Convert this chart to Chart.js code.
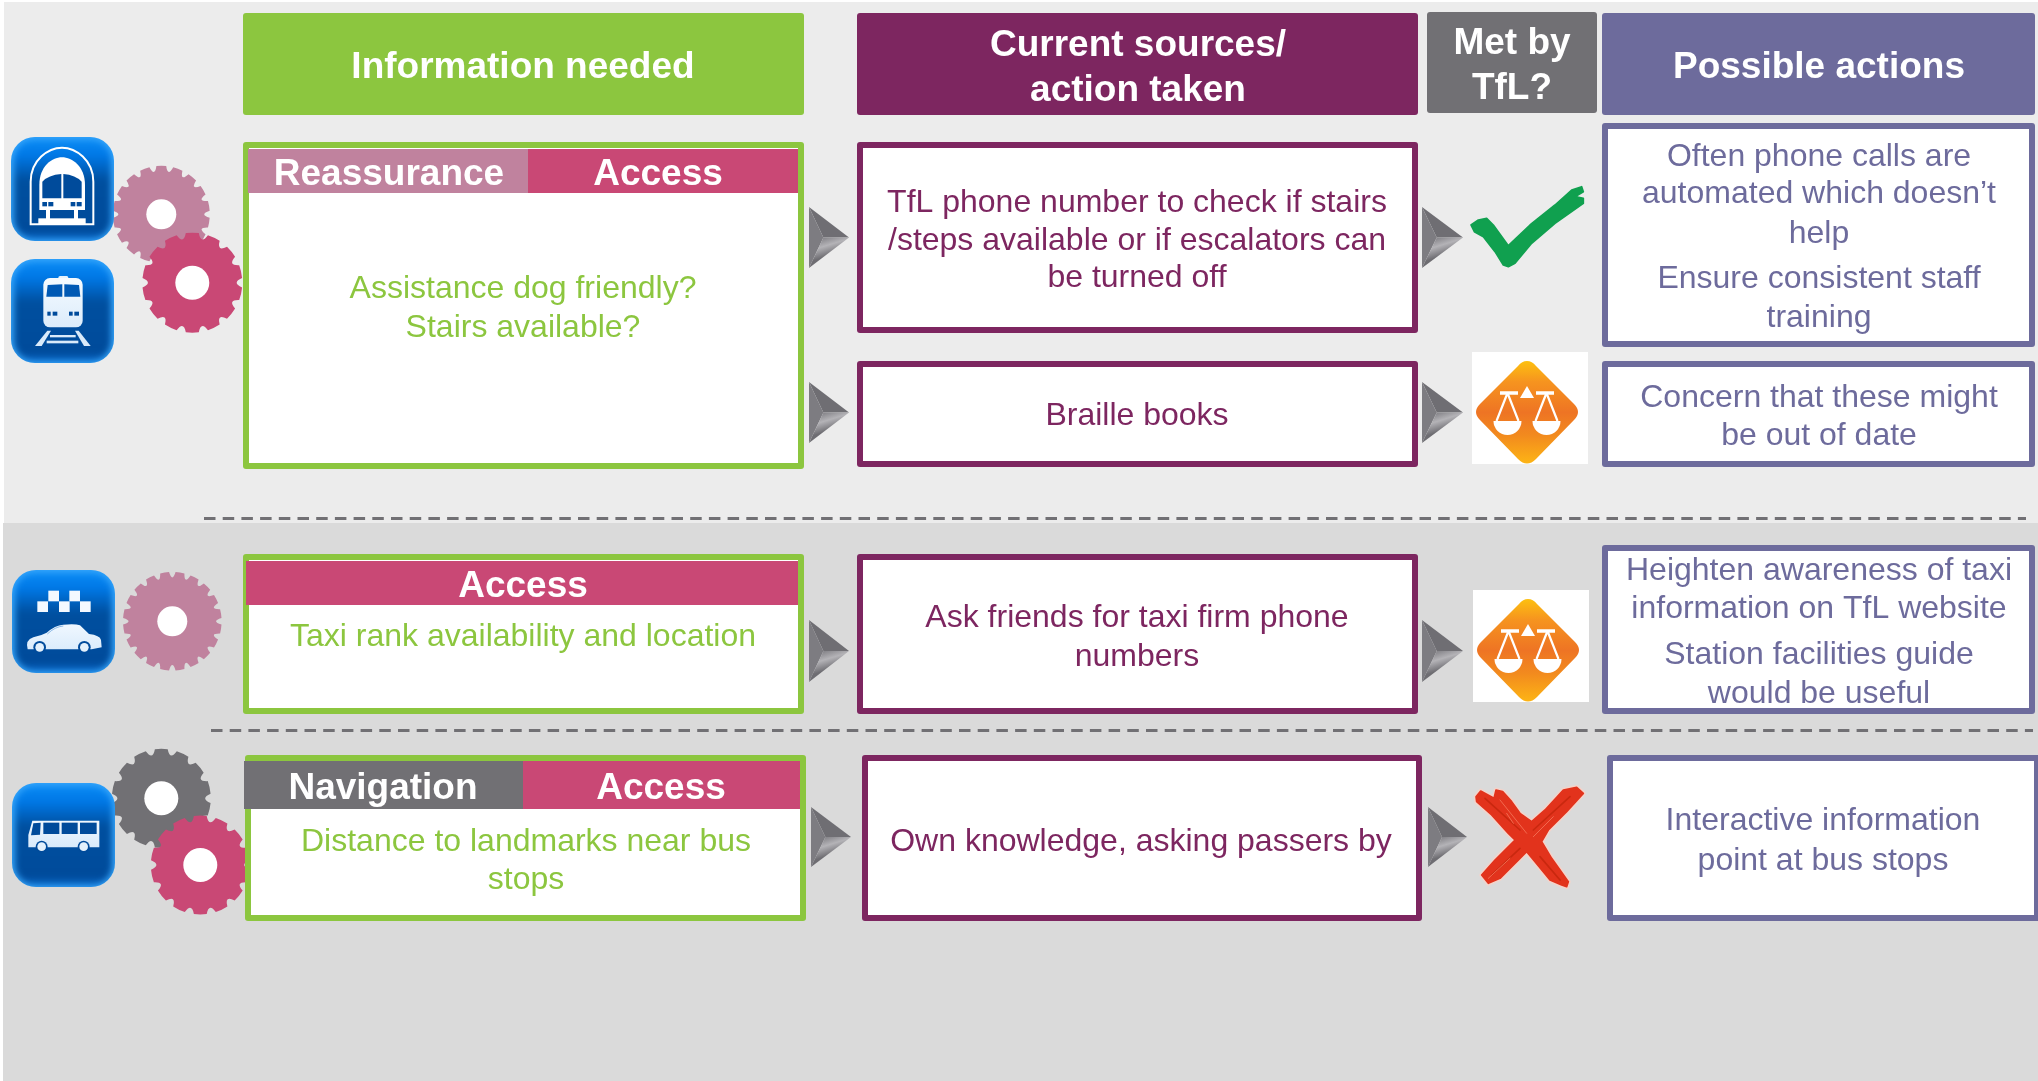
<!DOCTYPE html>
<html>
<head>
<meta charset="utf-8">
<title>Information needed</title>
<script src="https://cdn.jsdelivr.net/npm/chart.js@4"></script>
<style>
html,body{margin:0;padding:0;background:#fff;overflow:hidden;}
canvas{display:block;}
</style>
</head>
<body>
<canvas id="myChart" width="2038" height="1081"></canvas>
<script>
var columnHeaders = [["Information needed"], ["Current sources/", "action taken"], ["Met by", "TfL?"], ["Possible actions"]];
var themeLabels = [["Reassurance", "Access"], ["Access"], ["Navigation", "Access"]];
var infoNeeded = [["Assistance dog friendly?", "Stairs available?"], ["Taxi rank availability and location"], ["Distance to landmarks near bus", "stops"]];
var currentSources = [["TfL phone number to check if stairs", "/steps available or if escalators can", "be turned off"], ["Braille books"], ["Ask friends for taxi firm phone", "numbers"], ["Own knowledge, asking passers by"]];
var metByTfl = ["yes", "partly", "partly", "no"];
var possibleActions = [["Often phone calls are", "automated which doesn\u2019t", "help", "Ensure consistent staff", "training"], ["Concern that these might", "be out of date"], ["Heighten awareness of taxi", "information on TfL website", "Station facilities guide", "would be useful"], ["Interactive information", "point at bus stops"]];

var GREEN = "#8cc63f", PURPLE = "#7d2660", GREY = "#717074", SLATE = "#6d6b9c", PINK = "#c94875", MAUVE = "#c0829e";
var FONT = '"Liberation Sans", Arial, sans-serif';

// x0,y0,x1,y1 of each box in scale units
var headerBoxes = [[243,13,804,115,GREEN],[857,13,1418,115,PURPLE],[1427,12,1597,113,GREY],[1602,13,2035,115,SLATE]];
var headerText = [[523,[65]],[1138,[43,88]],[1512,[41,86]],[1819,[65]]];
var needBoxes = [[243,142,804,469],[243,554,804,714],[245,755,806,921]];
var tabs = [[[248,149,528,193,MAUVE,389],[528,149,798,193,PINK,658]],[[246,561,798,605,PINK,523]],[[244,761,523,809,GREY,383],[523,761,800,809,PINK,661]]];
var needTextPos = [[523,[288,327]],[523,[636]],[526,[841,879]]];
var sourceBoxes = [[857,142,1418,333],[857,361,1418,467],[857,554,1418,714],[862,755,1422,921]];
var sourceTextPos = [[1137,[202,240,277]],[1137,[415]],[1137,[617,656]],[1141,[841]]];
var actionBoxes = [[1602,123,2035,347],[1602,361,2035,467],[1602,545,2035,714],[1607,755,2040,921]];
var actionTextPos = [[1819,[156,193,233,278,317]],[1819,[397,435]],[1819,[570,608,654,693]],[1823,[820,860]]];
var arrows = [[809,207,849,268],[1422,207,1463,268],[809,382,849,443],[1422,382,1463,443],[809,620,849,682],[1422,620,1463,682],[811,807,851,867],[1428,807,1467,867]];
var metPos = [[1528,228],[1527,412],[1528,650],[1528,837]];
var gears = [[161.3,214.3,48.5,15,18,MAUVE],[192.3,282.7,50,17,14,PINK],[172.3,621.3,49.3,15,20,MAUVE],[161.3,798.3,49.5,17,14,GREY],[200.3,865,49.5,17,14,PINK]];
var icons = [["tube",11,137,114,241],["train",11,259,114,363],["taxi",12,570,115,673],["bus",12,783,115,887]];

function rr(ctx,x,y,w,h,r){
  ctx.beginPath();
  ctx.roundRect(x,y,w,h,r);
}
function poly(ctx,pts,col){
  ctx.beginPath();
  pts.forEach(function(p,i){ if(i==0) ctx.moveTo(p[0],p[1]); else ctx.lineTo(p[0],p[1]); });
  ctx.closePath();
  if(col){ ctx.fillStyle=col; ctx.fill(); }
}
function txt(ctx,str,x,y,size,col,bold){
  ctx.font=(bold?"bold ":"")+size+"px "+FONT;
  ctx.fillStyle=col;
  ctx.textAlign="center";
  ctx.textBaseline="middle";
  ctx.fillText(str,x,y+(bold?3:1.5));
}
function drawGear(ctx,g){
  var cx=g[0],cy=g[1],R=g[2],hole=g[3],n=g[4];
  var pitch=Math.PI*2/n, notch=pitch*0.42;
  ctx.beginPath();
  for(var i=0;i<n;i++){
    var a=i*pitch-notch/2;
    ctx.arc(cx,cy,R,a+notch,a+pitch,false);
    var mid=a+pitch+notch/2;
    ctx.quadraticCurveTo(cx+Math.cos(mid)*(R-11),cy+Math.sin(mid)*(R-11),cx+Math.cos(a+pitch+notch)*R,cy+Math.sin(a+pitch+notch)*R);
  }
  ctx.closePath();
  ctx.fillStyle=g[5];
  ctx.fill();
  ctx.beginPath();
  ctx.arc(cx,cy,hole,0,Math.PI*2);
  ctx.fillStyle="#fff";
  ctx.fill();
}
function drawArrow(ctx,a){
  var x0=a[0],y0=a[1],x1=a[2],y1=a[3],ym=(y0+y1)/2,ix=x0+(x1-x0)*0.36;
  poly(ctx,[[x0,y0],[x1,ym],[ix,ym]],"#6f6e73");
  poly(ctx,[[x0,y0],[ix,ym],[x0,y1]],"#7d7c81");
  var g=ctx.createLinearGradient(ix,ym,x0+(x1-x0)*0.5,y1-(y1-y0)*0.2);
  g.addColorStop(0,"#838287");
  g.addColorStop(0.45,"#b4b3b7");
  g.addColorStop(1,"#6e6d72");
  poly(ctx,[[x0,y1],[ix,ym],[x1,ym]],g);
}
function drawTick(ctx,cx,cy){
  ctx.save();
  ctx.filter="blur(0.7px)";
  ctx.translate(cx-113,cy-53);
  ctx.scale(1/3,1/3);
  poly(ctx,[[168,150],[190,135],[215,130],[235,150],[280,212],[345,150],[420,90],[470,45],[500,35],[505,50],[480,65],[505,70],[505,85],[470,110],[420,145],[350,205],[300,265],[280,275],[265,270],[240,230],[205,185],[178,170]],"#10a04f");
  ctx.lineJoin="round";
  ctx.strokeStyle="#10a04f"; ctx.lineWidth=5;
  ctx.stroke();
  ctx.restore();
}
function drawCross(ctx,cx,cy){
  ctx.save();
  ctx.filter="blur(0.7px)";
  ctx.translate(cx-108,cy-57);
  ctx.scale(1/3,1/3);
  poly(ctx,[[168,50],[182,33],[222,55],[228,30],[248,35],[275,65],[300,100],[335,125],[375,90],[430,30],[470,22],[490,40],[440,95],[385,150],[365,185],[395,235],[445,305],[440,320],[425,315],[390,300],[345,245],[320,215],[285,250],[240,295],[205,310],[185,285],[225,240],[285,180],[265,160],[215,105],[170,65]]);
  ctx.lineJoin="round";
  ctx.strokeStyle="#f4d3ca"; ctx.lineWidth=14;
  ctx.stroke();
  ctx.strokeStyle="#e2331c"; ctx.lineWidth=5;
  ctx.stroke();
  ctx.fillStyle="#e2331c";
  ctx.fill();
  ctx.lineCap="round";
  ctx.strokeStyle="#c9280f"; ctx.lineWidth=5;
  ctx.beginPath();
  ctx.moveTo(195,55); ctx.lineTo(300,150);
  ctx.moveTo(340,150); ctx.lineTo(450,50);
  ctx.moveTo(215,285); ctx.lineTo(300,205);
  ctx.moveTo(360,230); ctx.lineTo(420,300);
  ctx.stroke();
  ctx.strokeStyle="#f26a50"; ctx.lineWidth=3;
  ctx.beginPath();
  ctx.moveTo(240,60); ctx.lineTo(320,160);
  ctx.moveTo(260,100); ctx.lineTo(280,130);
  ctx.moveTo(400,110); ctx.lineTo(340,170);
  ctx.moveTo(205,295); ctx.lineTo(270,235);
  ctx.stroke();
  ctx.restore();
}
function drawScales(ctx,cx,cy){
  ctx.fillStyle="#fff";
  ctx.fillRect(cx-55,cy-60,116,112);
  ctx.beginPath();
  ctx.moveTo(cx,cy-51);
  ctx.quadraticCurveTo(cx+5,cy-51,cx+9,cy-46);
  ctx.lineTo(cx+47,cy-8);
  ctx.quadraticCurveTo(cx+55,cy,cx+47,cy+8);
  ctx.lineTo(cx+9,cy+47);
  ctx.quadraticCurveTo(cx,cy+56,cx-9,cy+47);
  ctx.lineTo(cx-47,cy+8);
  ctx.quadraticCurveTo(cx-55,cy,cx-47,cy-8);
  ctx.lineTo(cx-9,cy-46);
  ctx.quadraticCurveTo(cx-5,cy-51,cx,cy-51);
  ctx.closePath();
  var g=ctx.createLinearGradient(0,cy-51,0,cy+52);
  g.addColorStop(0,"#fdc010");
  g.addColorStop(0.2,"#f6941f");
  g.addColorStop(0.5,"#ee7424");
  g.addColorStop(0.72,"#f28a1e");
  g.addColorStop(1,"#fdb515");
  ctx.fillStyle=g;
  ctx.fill();
  poly(ctx,[[cx,cy-26],[cx+7,cy-14],[cx-7,cy-14]],"#fff");
  ctx.strokeStyle="#fff"; ctx.lineWidth=2.2;
  [-1,1].forEach(function(s){
    var c=cx+s*19.5;
    ctx.lineWidth=3.5;
    ctx.beginPath();
    ctx.moveTo(cx+s*9,cy-19); ctx.lineTo(cx+s*27,cy-19); ctx.stroke();
    ctx.lineWidth=2.2;
    ctx.beginPath();
    ctx.moveTo(c,cy-19); ctx.lineTo(c-11,cy+9); ctx.moveTo(c,cy-19); ctx.lineTo(c+11,cy+9); ctx.stroke();
    ctx.beginPath();
    ctx.arc(c,cy+9,14,0,Math.PI);
    ctx.closePath();
    ctx.fillStyle="#fff"; ctx.fill();
  });
}
function drawIconBase(ctx,x0,y0,w,h){
  ctx.save();
  rr(ctx,x0,y0,w,h,24);
  ctx.fillStyle="#35a5fb";
  ctx.fill();
  ctx.clip();
  ctx.filter="blur(3px)";
  var g=ctx.createLinearGradient(0,y0,0,y0+h);
  g.addColorStop(0,"#0a8cf6");
  g.addColorStop(0.18,"#0078e6");
  g.addColorStop(0.42,"#004f9f");
  g.addColorStop(0.9,"#004b9b");
  g.addColorStop(1,"#0a6bd0");
  rr(ctx,x0+3,y0+3,w-6,h-5,20);
  ctx.fillStyle=g;
  ctx.fill();
  ctx.restore();
}
// glyphs are written in 3x units relative to a corner
function drawIcon(ctx,ic){
  var x0=ic[1],y0=ic[2],x1=ic[3],y1=ic[4];
  drawIconBase(ctx,x0,y0,x1-x0,y1-y0);
  var white="#fff", dark="#004b9b";
  ctx.save();
  var pg;
  if(ic[0]=="tube"||ic[0]=="train"){
    ctx.translate(x0-6,ic[0]=="tube"?y0-7:y0-129);
  }else{
    ctx.translate(x0-7,ic[0]=="taxi"?y0-10:y0-223);
  }
  ctx.scale(1/3,1/3);
  if(ic[0]=="tube"){
    ctx.strokeStyle=white; ctx.lineWidth=6;
    ctx.beginPath();
    ctx.moveTo(77,283); ctx.lineTo(77,155);
    ctx.bezierCurveTo(77,90,130,53,171,53);
    ctx.bezierCurveTo(212,53,265,90,265,155);
    ctx.lineTo(265,283); ctx.closePath(); ctx.stroke();
    ctx.beginPath();
    ctx.moveTo(103,240); ctx.lineTo(103,165);
    ctx.bezierCurveTo(103,110,140,82,171,82);
    ctx.bezierCurveTo(202,82,240,110,240,165);
    ctx.lineTo(240,240); ctx.closePath();
    ctx.fillStyle=white; ctx.fill();
    ctx.beginPath();
    ctx.moveTo(112,205); ctx.lineTo(112,155); ctx.quadraticCurveTo(130,135,169,132); ctx.lineTo(169,205); ctx.closePath();
    ctx.moveTo(230,205); ctx.lineTo(230,155); ctx.quadraticCurveTo(212,135,175,132); ctx.lineTo(175,205); ctx.closePath();
    ctx.fillStyle=dark; ctx.fill();
    [[112,14],[130,15],[197,14],[215,15]].forEach(function(r){ ctx.fillRect(r[0],216,r[1],13); });
    ctx.fillStyle=white;
    ctx.fillRect(123,240,12,28); ctx.fillRect(207,240,12,28); ctx.fillRect(100,265,142,18);
  }else if(ic[0]=="train"){
    pg=ctx.createLinearGradient(0,440,0,592);
    pg.addColorStop(0,"#f6fbff"); pg.addColorStop(1,"#dcecfb");
    rr(ctx,160,438,30,17,5); ctx.fillStyle="#e6f2fc"; ctx.fill();
    rr(ctx,115,444,118,148,20); ctx.fillStyle=pg; ctx.fill();
    poly(ctx,[[128,465],[172,463],[172,500],[124,500]],"#0059b4");
    poly(ctx,[[178,463],[222,465],[226,500],[178,500]],"#0059b4");
    ctx.fillStyle=dark;
    [[127,10],[143,14],[192,11],[208,14]].forEach(function(r){ ctx.fillRect(r[0],545,r[1],12); });
    poly(ctx,[[127,602],[138,602],[110,648],[90,648]],"#d9eafa");
    poly(ctx,[[210,602],[221,602],[257,648],[237,648]],"#d9eafa");
    ctx.fillStyle="#d9eafa";
    ctx.fillRect(135,615,77,7); ctx.fillRect(125,632,95,8);
  }else if(ic[0]=="taxi"){
    ctx.fillStyle="#f4f9ff";
    [[130,92],[193,92],[97,124],[162,124],[225,124]].forEach(function(s){ ctx.fillRect(s[0],s[1],32,32); });
    pg=ctx.createLinearGradient(0,192,0,280);
    pg.addColorStop(0,"#f0f8ff"); pg.addColorStop(1,"#d8eafb");
    ctx.beginPath();
    ctx.moveTo(68,268);
    ctx.quadraticCurveTo(60,240,85,232);
    ctx.quadraticCurveTo(110,226,125,218);
    ctx.quadraticCurveTo(150,196,175,194);
    ctx.quadraticCurveTo(210,190,225,196);
    ctx.lineTo(252,222);
    ctx.quadraticCurveTo(285,226,288,240);
    ctx.lineTo(290,262);
    ctx.lineTo(260,268);
    ctx.closePath();
    ctx.fillStyle=pg; ctx.fill();
    ctx.strokeStyle="#5c9ad8"; ctx.lineWidth=2;
    ctx.beginPath(); ctx.moveTo(127,222); ctx.quadraticCurveTo(150,200,175,198); ctx.stroke();
    [104,238].forEach(function(o){
      ctx.beginPath(); ctx.arc(o,262,19,0,Math.PI*2); ctx.fillStyle=dark; ctx.fill();
      ctx.beginPath(); ctx.arc(o,262,13,0,Math.PI*2); ctx.fillStyle="#e4f1fc"; ctx.fill();
    });
  }else{
    pg=ctx.createLinearGradient(0,782,0,862);
    pg.addColorStop(0,"#f0f8ff"); pg.addColorStop(1,"#d8eafb");
    poly(ctx,[[82,782],[283,782],[283,862],[70,862],[70,825]],pg);
    poly(ctx,[[85,790],[107,788],[105,824],[78,826]],dark);
    ctx.fillStyle=dark;
    ctx.fillRect(115,788,48,34); ctx.fillRect(170,788,48,34); ctx.fillRect(225,788,50,34);
    [110,236].forEach(function(o){
      ctx.beginPath(); ctx.arc(o,860,18,0,Math.PI*2); ctx.fillStyle=dark; ctx.fill();
      ctx.beginPath(); ctx.arc(o,860,13,0,Math.PI*2); ctx.fillStyle="#e4f1fc"; ctx.fill();
    });
  }
  ctx.restore();
}

var backgroundPlugin = {
  id: "bandsAndBoxes",
  beforeDatasetsDraw: function(chart){
    var ctx=chart.ctx, sx=chart.scales.x, sy=chart.scales.y;
    var X=function(v){return sx.getPixelForValue(v);}, Y=function(v){return sy.getPixelForValue(v);};
    ctx.save();
    ctx.fillStyle="#ececec";
    ctx.fillRect(X(4),Y(2),X(2038)-X(4),Y(523)-Y(2));
    ctx.fillStyle="#dadada";
    ctx.fillRect(X(3),Y(523),X(2038)-X(3),Y(1081)-Y(523));
    ctx.restore();
  },
  afterDatasetsDraw: function(chart){
    var ctx=chart.ctx, sx=chart.scales.x, sy=chart.scales.y;
    var X=function(v){return sx.getPixelForValue(v);}, Y=function(v){return sy.getPixelForValue(v);};
    ctx.save();
    function box(b,col){
      rr(ctx,X(b[0]),Y(b[1]),X(b[2])-X(b[0]),Y(b[3])-Y(b[1]),3);
      ctx.fillStyle=col; ctx.fill();
      ctx.fillStyle="#fff";
      ctx.fillRect(X(b[0])+6,Y(b[1])+6,X(b[2])-X(b[0])-12,Y(b[3])-Y(b[1])-12);
    }
    gears.forEach(function(g){ drawGear(ctx,[X(g[0]),Y(g[1]),g[2],g[3],g[4],g[5]]); });
    icons.forEach(function(ic){ drawIcon(ctx,[ic[0],X(ic[1]),Y(ic[2]),X(ic[3]),Y(ic[4])]); });

    headerBoxes.forEach(function(b,i){
      rr(ctx,X(b[0]),Y(b[1]),X(b[2])-X(b[0]),Y(b[3])-Y(b[1]),3);
      ctx.fillStyle=b[4]; ctx.fill();
      columnHeaders[i].forEach(function(s,j){
        txt(ctx,s,X(headerText[i][0]),Y(headerText[i][1][j]),37,"#fff",true);
      });
    });
    needBoxes.forEach(function(b,i){
      box(b,GREEN);
      tabs[i].forEach(function(t,j){
        ctx.fillStyle=t[4];
        ctx.fillRect(X(t[0]),Y(t[1]),X(t[2])-X(t[0]),Y(t[3])-Y(t[1]));
        txt(ctx,themeLabels[i][j],X(t[5]),Y((t[1]+t[3])/2)+1,37,"#fff",true);
      });
      infoNeeded[i].forEach(function(s,j){
        txt(ctx,s,X(needTextPos[i][0]),Y(needTextPos[i][1][j]),32,GREEN,false);
      });
    });
    sourceBoxes.forEach(function(b,i){
      box(b,PURPLE);
      currentSources[i].forEach(function(s,j){
        txt(ctx,s,X(sourceTextPos[i][0]),Y(sourceTextPos[i][1][j]),32,PURPLE,false);
      });
    });
    actionBoxes.forEach(function(b,i){
      box(b,SLATE);
      possibleActions[i].forEach(function(s,j){
        txt(ctx,s,X(actionTextPos[i][0]),Y(actionTextPos[i][1][j]),32,SLATE,false);
      });
    });
    arrows.forEach(function(a){ drawArrow(ctx,[X(a[0]),Y(a[1]),X(a[2]),Y(a[3])]); });
    metByTfl.forEach(function(m,i){
      var cx=X(metPos[i][0]), cy=Y(metPos[i][1]);
      if(m=="yes") drawTick(ctx,cx,cy);
      else if(m=="partly") drawScales(ctx,cx,cy);
      else drawCross(ctx,cx,cy);
    });
    ctx.restore();
  }
};

new Chart("myChart", {
  type: "scatter",
  data: {
    datasets: [
      {data:[{x:204,y:518.5},{x:2026,y:518.5}], showLine:true, borderColor:GREY, borderWidth:3, borderDash:[11.5,7.2], pointRadius:0},
      {data:[{x:211,y:730.5},{x:2033,y:730.5}], showLine:true, borderColor:GREY, borderWidth:3, borderDash:[11.5,7.2], pointRadius:0}
    ]
  },
  options: {
    responsive:false,
    animation:false,
    layout:{padding:0},
    plugins:{legend:{display:false},title:{display:false},tooltip:{enabled:false}},
    scales:{
      x:{type:"linear",min:0,max:2038,display:false},
      y:{type:"linear",min:0,max:1081,reverse:true,display:false}
    }
  },
  plugins:[backgroundPlugin]
});
</script>
</body>
</html>
